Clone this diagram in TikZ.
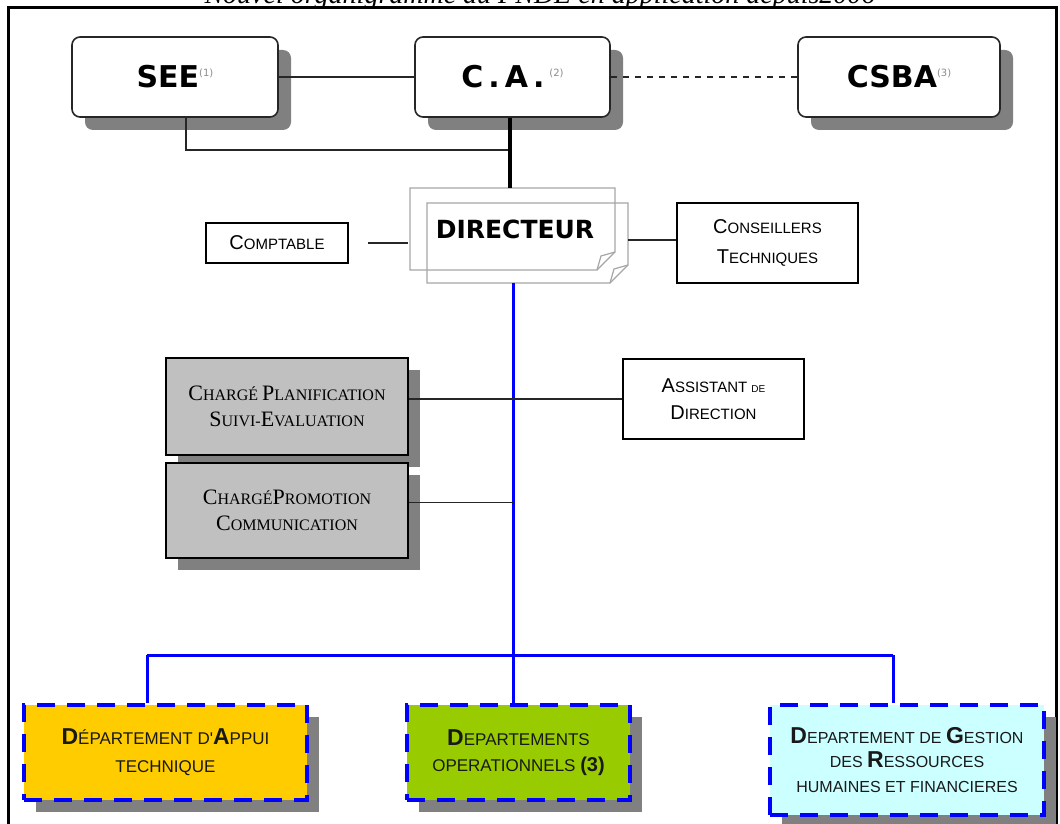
\documentclass[tikz,border=0pt]{standalone}
\usepackage{fontspec}
\usetikzlibrary{shadows,calc}
\newfontfamily\tms{Liberation Serif}
\newfontfamily\ari{Liberation Sans}
\newfontfamily\djv{DejaVu Sans}
\definecolor{shadowgray}{HTML}{808080}
\definecolor{silverfill}{HTML}{C0C0C0}
\definecolor{deptyellow}{HTML}{FFCC00}
\definecolor{deptgreen}{HTML}{99CC00}
\definecolor{deptcyan}{HTML}{CCFFFF}
\definecolor{linkblue}{HTML}{0000FF}
\newcommand\Bg[2][10]{{\fontsize{#1}{#1}\selectfont #2}}
\newcommand\Note[1]{\raisebox{0.7ex}{\fontsize{5}{5}\selectfont\mdseries\color{black!45}(#1)}}
\begin{document}
\begin{tikzpicture}[x=0.5pt,y=-0.5pt,
 topbox/.style={draw=black!85, line width=0.8pt, rounded corners=4pt, fill=white,
   drop shadow={shadow xshift=6.5pt, shadow yshift=-6.5pt, fill=shadowgray, opacity=1},
   font=\djv\bfseries\fontsize{15}{18}\selectfont, inner sep=0pt, minimum height=40pt},
 plainbox/.style={draw=black, line width=0.8pt, fill=white, align=center, inner sep=0pt,
   font=\ari\fontsize{7.5}{15}\selectfont},
 greybox/.style={draw=black, line width=0.8pt, fill=silverfill, align=center, inner sep=0pt,
   drop shadow={shadow xshift=6pt, shadow yshift=-6pt, fill=shadowgray, opacity=1},
   font=\tms\fontsize{8}{13}\selectfont, minimum width=121pt},
 deptbox/.style={draw=linkblue, line width=2pt, dash pattern=on 9pt off 6pt, align=center, inner sep=0pt,
   drop shadow={shadow xshift=6pt, shadow yshift=-6pt, fill=shadowgray, opacity=1},
   font=\ari\fontsize{8.5}{14}\selectfont, text=black!90},
 thinlink/.style={draw=black!85, line width=0.7pt},
 bluelink/.style={draw=linkblue, line width=1.5pt},
 pagesheet/.style={draw=black!35, line width=0.6pt}
]
\useasboundingbox (0,0) rectangle (1060,824);
\clip (0,0) rectangle (1060,824);
\fill[white] (0,0) rectangle (1060,824);

% frame and title
\coordinate (frameTL) at (8,8);
\coordinate (frameBR) at (1056,860);
\draw[line width=1.5pt] (frameTL) rectangle (frameBR);
\node[font=\tms\itshape\fontsize{14}{16}\selectfont, anchor=base, inner sep=0pt] (title) at (540,4)
  {Nouvel organigramme du FNDE en application depuis2006};

% top row
\node[topbox, minimum width=103pt] (see) at (175,77) {SEE\Note{1}};
\node[topbox, minimum width=97.5pt] (ca) at (512.5,77) {C\,.\,A\,.\,\Note{2}};
\node[topbox, minimum width=101pt] (csba) at (899,77) {CSBA\Note{3}};

% directeur sheets
\draw[pagesheet] (410,188) -- (615,188) -- (615,252) -- (597,270) -- (410,270) -- cycle;
\draw[pagesheet] (597,270) -- (601,256) -- (615,252);
\draw[pagesheet] (427,203) -- (628,203) -- (628,265) -- (610,283) -- (427,283) -- cycle;
\draw[pagesheet] (610,283) -- (614,269) -- (628,265);
\node[font=\djv\bfseries\fontsize{12.5}{14}\selectfont, inner sep=0pt] (dir) at (515,229) {DIRECTEUR};

\coordinate (pageTop) at (510,188);
\coordinate (pageBottom) at (513,283);
\coordinate (pageLeft) at (408,243);
\coordinate (pageRight) at (628,240);
\coordinate (comptR) at (368,243);
\coordinate (seeJoin) at (510,150);
\coordinate (hub) at (513,655);
\coordinate (hubL) at (147,655);
\coordinate (hubR) at (893,655);

\node[plainbox, minimum width=71pt, minimum height=20pt] (compt) at (277,243) {\Bg{C}OMPTABLE};
\node[plainbox, minimum width=90.5pt, minimum height=40pt] (cons) at (767.5,243)
  {\Bg{C}ONSEILLERS\\\Bg{T}ECHNIQUES};

% connectors top
\draw[thinlink] (see.east) -- (ca.west);
\draw[thinlink, dashed] (ca.east) -- (csba.west);
\draw[thinlink] ([xshift=5.5pt]see.south) |- (seeJoin);
\draw[line width=2pt] (ca.south -| pageTop) -- (pageTop);
\draw[thinlink] (comptR) -- (pageLeft);
\draw[thinlink] (pageRight) -- (cons.west |- pageRight);

% blue trunk
\draw[bluelink] (pageBottom) -- (hub);

% staff
\node[greybox, minimum height=48.5pt] (g1) at (287,406.5)
  {\Bg[11]{C}HARGÉ \Bg[11]{P}LANIFICATION\\\Bg[11]{S}UIVI-\Bg[11]{E}VALUATION};
\node[greybox, minimum height=47.5pt] (g2) at (287,510.5)
  {\Bg[11]{C}HARGÉ\Bg[11]{P}ROMOTION\\\Bg[11]{C}OMMUNICATION};
\node[plainbox, minimum width=90.5pt, minimum height=40pt, font=\ari\fontsize{7.5}{13.5}\selectfont] (asst) at (713.5,399)
  {\Bg{A}SSISTANT \Bg[5]{DE}\\\Bg{D}IRECTION};
\draw[thinlink] (g1.east |- asst.west) -- (asst.west);
\draw[thinlink] ([yshift=4pt]g2.east) -- ([yshift=4pt]g2.east -| hub);

% departments
\node[deptbox, fill=deptyellow, minimum width=141.5pt, minimum height=47.5pt] (d1) at (165.5,752.5)
  {\Bg[11.5]{\bfseries D}ÉPARTEMENT D'\Bg[11.5]{\bfseries A}PPUI\\TECHNIQUE};
\node[deptbox, fill=deptgreen, minimum width=111.5pt, minimum height=47.5pt, font=\ari\fontsize{8.5}{13}\selectfont] (d2) at (518.5,752.5)
  {\Bg[11.5]{\bfseries D}EPARTEMENTS\\OPERATIONNELS \Bg[10]{\bfseries (3)}};
\node[deptbox, fill=deptcyan, minimum width=137pt, minimum height=55pt, font=\ari\fontsize{8}{12.25}\selectfont] (d3) at (907,760)
  {\Bg[11.5]{\bfseries D}EPARTEMENT DE \Bg[11.5]{\bfseries G}ESTION\\DES \Bg[11.5]{\bfseries R}ESSOURCES\\HUMAINES ET FINANCIERES};

\draw[bluelink] (hubL) -- (hubR);
\draw[bluelink] (hubL) -- (hubL |- d1.north);
\draw[bluelink] (hub) -- (hub |- d2.north);
\draw[bluelink] (hubR) -- (hubR |- d3.north);
\end{tikzpicture}
\end{document}
